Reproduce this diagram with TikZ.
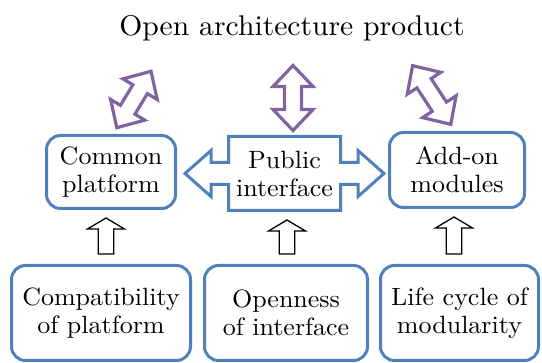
\documentclass[tikz,border=0pt]{standalone}
\usepackage{fontspec}
\setmainfont{lmroman10-regular.otf}[FakeStretch=1.04]
\usepackage{tikz}
\usetikzlibrary{calc}

\definecolor{boxblue}{HTML}{4F81BD}
\definecolor{linkpurple}{HTML}{8064A2}

\begin{document}
\begin{tikzpicture}[x=1pt, y=1pt,
    blueline/.style = {draw=boxblue, line width=3pt},
    box/.style = {blueline, rounded corners=14pt, align=center, inner sep=0pt,
                  font=\fontsize{25}{28}\selectfont},
    fatarrow/.style = {draw=linkpurple, line width=3.2pt, line join=miter},
    uparrow/.style = {draw=black, line width=1.3pt, line join=miter}]
 \useasboundingbox (0,0) rectangle (542,363);

 \node [font=\fontsize{28.5}{32}\selectfont, anchor=base] (title) at (292,327) {Open architecture product};

 % middle row
 \node [box, minimum width=129pt, minimum height=73pt] (plat) at (111,191) {Common\\platform};
 \node [box, draw=none, minimum width=112pt, minimum height=74pt] (pub) at (284.5,189.5) {Public\\interface};
 \node [box, minimum width=135pt, minimum height=75pt] (addon) at (457,193) {Add-on\\modules};

 % outline of the interface: box with an arrow to each side
 \draw [blueline, line join=miter, shift={(pub.center)}]
    (-56,37) -- (56,37) -- (56,11) -- (73.5,11) -- (73.5,23) -- (99.5,0)
    -- (73.5,-23) -- (73.5,-11) -- (56,-11) -- (56,-37) -- (-56,-37)
    -- (-56,-11) -- (-73.5,-11) -- (-73.5,-23) -- (-99.5,0) -- (-73.5,23)
    -- (-73.5,11) -- (-56,11) -- cycle;

 % bottom row
 \node [box, minimum width=179pt, minimum height=95pt] (compat) at (101,50) {Compatibility\\of platform};
 \node [box, minimum width=163pt, minimum height=95pt] (open) at (286,50) {Openness\\of interface};
 \node [box, minimum width=158pt, minimum height=95pt] (life) at (459.5,50) {Life cycle of\\modularity};

 % two-way arrows up to the product
 \foreach \cx/\cy/\ang/\len in {133.9/263.5/58.8/66, 293/265/90/65, 431.7/268/123.1/70} {
   \pgfmathsetmacro\hl{\len/2}
   \draw [fatarrow, shift={(\cx,\cy)}, rotate=\ang]
     (\hl,0) -- (\hl-21,20) -- (\hl-21,8.5) -- (-\hl+21,8.5) -- (-\hl+21,20)
     -- (-\hl,0) -- (-\hl+21,-20) -- (-\hl+21,-8.5) -- (\hl-21,-8.5)
     -- (\hl-21,-20) -- cycle;
 }

 % hollow arrows from the bottom row
 \foreach \xc/\a/\b in {106/compat/plat, 287/open/pub, 454/life/addon}
   \draw [uparrow] let \p1 = (\a.north), \p2 = (\b.south) in
     (\xc-7.75,\y1+10) -- (\xc+7.75,\y1+10) -- (\xc+7.75,\y2-19)
     -- (\xc+18.5,\y2-19) -- (\xc,\y2-8) -- (\xc-18.5,\y2-19)
     -- (\xc-7.75,\y2-19) -- cycle;
\end{tikzpicture}
\end{document}
